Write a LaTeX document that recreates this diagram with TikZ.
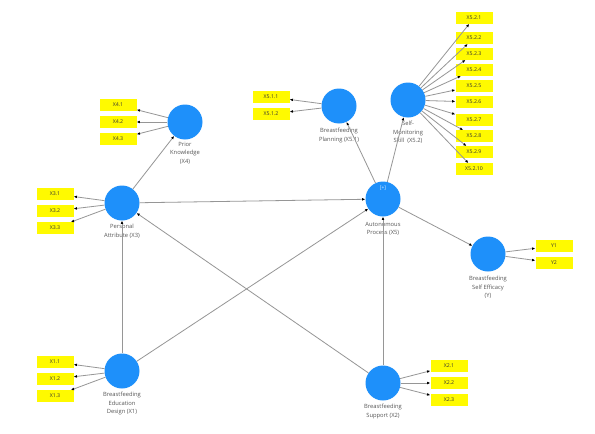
\documentclass[tikz,border=0pt]{standalone}
\usepackage{fontspec}
\setmainfont{Open Sans}
\usetikzlibrary{arrows.meta}
\definecolor{lvblue}{RGB}{30,144,250}
\definecolor{indyellow}{RGB}{255,250,0}
\definecolor{linegray}{RGB}{150,150,150}
\definecolor{lbltext}{RGB}{85,85,85}
\tikzset{
  latent/.style={circle,fill=lvblue,draw=none,minimum size=35pt,inner sep=0pt},
  ind/.style={rectangle,fill=indyellow,draw=none,minimum width=37pt,minimum height=11.5pt,inner sep=0pt,font=\fontsize{5.2}{6}\selectfont,text=black!80},
  lbl/.style={align=center,font=\fontsize{5.8}{8.5}\selectfont,text=lbltext,inner sep=0pt,anchor=north},
  conn/.style={draw=linegray,line width=0.8pt,-{Latex[length=3.2pt,width=2.8pt,color=black]}},
}
\begin{document}
\begin{tikzpicture}[x=1pt,y=-1pt]
\fill[white] (0,0) rectangle (595,434);
\useasboundingbox (0,0) rectangle (595,434);

% latent variables
\node[latent] (x4) at (185,122) {};
\node[latent] (x3) at (122,203) {};
\node[latent] (x51) at (339,106) {};
\node[latent] (x52) at (408,100) {};
\node[latent] (x5) at (383,199) {};
\node[latent] (y) at (488,254) {};
\node[latent] (x1) at (122,371) {};
\node[latent] (x2) at (383,383) {};
\node[font=\fontsize{5}{6}\selectfont,text=white!85!lvblue,inner sep=0pt] (plus) at (383,188) {[+]};

% labels
\node[lbl] (x4l) at (185,142) {Prior\\Knowledge\\(X4)};
\node[lbl] (x3l) at (122,224) {Personal\\Attribute (X3)};
\node[lbl] (x51l) at (339,128) {Breastfeeding\\Planning (X5.1)};
\node[lbl] (x52l) at (408,121) {Self-\\Monitoring\\Skill\ \ (X5.2)};
\node[lbl] (x5l) at (383,222) {Autonomous\\Process (X5)};
\node[lbl] (yl) at (488,276) {Breastfeeding\\Self Efficacy\\(Y)};
\node[lbl] (x1l) at (122,392) {Breastfeeding\\Education\\Design (X1)};
\node[lbl] (x2l) at (383,404) {Breastfeeding\\Support (X2)};

% indicators
\node[ind] (i41) at (118,105) {X4.1};
\node[ind] (i42) at (118,122) {X4.2};
\node[ind] (i43) at (118,139) {X4.3};
\node[ind] (i31) at (55,194) {X3.1};
\node[ind] (i32) at (55,211) {X3.2};
\node[ind] (i33) at (55,228) {X3.3};
\node[ind] (i511) at (271,97) {X5.1.1};
\node[ind] (i512) at (271,114) {X5.1.2};
\node[ind] (i521) at (474,18) {X5.2.1};
\node[ind] (i522) at (474,38) {X5.2.2};
\node[ind] (i523) at (474,54) {X5.2.3};
\node[ind] (i524) at (474,70) {X5.2.4};
\node[ind] (i525) at (474,86) {X5.2.5};
\node[ind] (i526) at (474,102) {X5.2.6};
\node[ind] (i527) at (474,120) {X5.2.7};
\node[ind] (i528) at (474,136) {X5.2.8};
\node[ind] (i529) at (474,152) {X5.2.9};
\node[ind] (i5210) at (474,169) {X5.2.10};
\node[ind] (iy1) at (554,246) {Y1};
\node[ind] (iy2) at (554,263) {Y2};
\node[ind] (i11) at (55,362) {X1.1};
\node[ind] (i12) at (55,379) {X1.2};
\node[ind] (i13) at (55,396) {X1.3};
\node[ind] (i21) at (449,366) {X2.1};
\node[ind] (i22) at (449,383) {X2.2};
\node[ind] (i23) at (449,400) {X2.3};

% outer model
\foreach \t in {i41,i42,i43} \draw[conn] (x4) -- (\t);
\foreach \t in {i31,i32,i33} \draw[conn] (x3) -- (\t);
\foreach \t in {i511,i512} \draw[conn] (x51) -- (\t);
\foreach \t in {i521,i522,i523,i524,i525,i526,i527,i528,i529,i5210} \draw[conn] (x52) -- (\t);
\foreach \t in {iy1,iy2} \draw[conn] (y) -- (\t);
\foreach \t in {i11,i12,i13} \draw[conn] (x1) -- (\t);
\foreach \t in {i21,i22,i23} \draw[conn] (x2) -- (\t);

% inner model
\draw[conn] (x3) -- (x4);
\draw[conn] (x3) -- (x5);
\draw[conn] (x1) -- (x3);
\draw[conn] (x2) -- (x3);
\draw[conn] (x1) -- (x5);
\draw[conn] (x2) -- (x5);
\draw[conn] (x5) -- (x51);
\draw[conn] (x5) -- (x52);
\draw[conn] (x5) -- (y);
\end{tikzpicture}
\end{document}
